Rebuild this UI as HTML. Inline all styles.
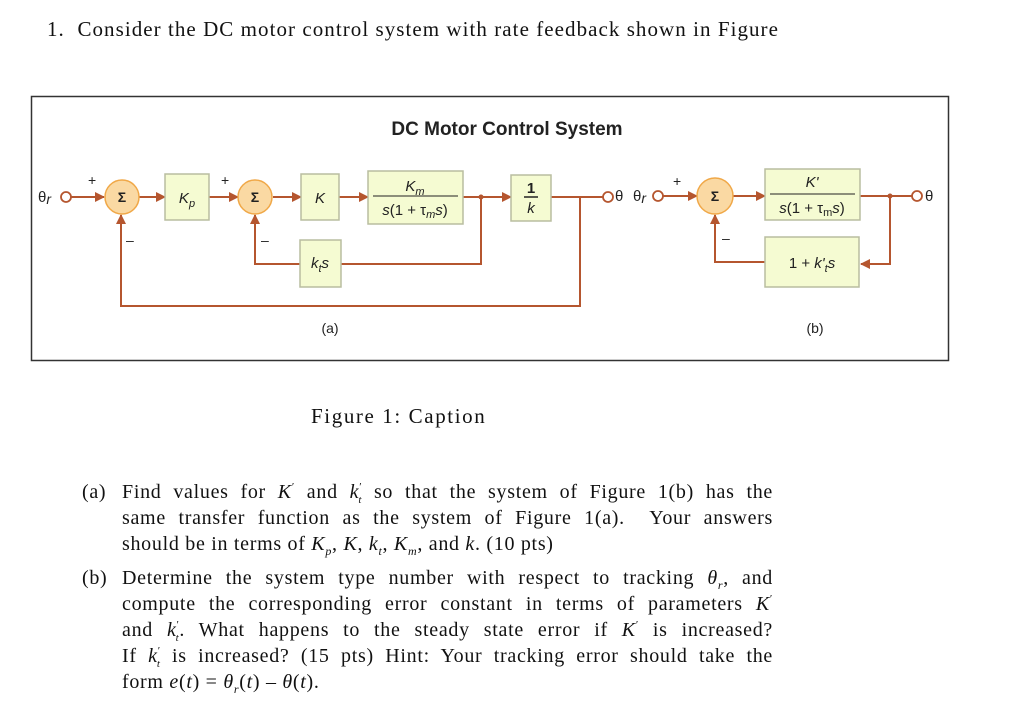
<!DOCTYPE html>
<html><head><meta charset="utf-8"><style>
body{margin:0;width:1024px;height:725px;background:#fff;position:relative;overflow:hidden;font-family:"Liberation Serif",serif;color:#111}
.t{position:absolute;font-size:20px;letter-spacing:0.7px;white-space:nowrap;line-height:22px}
.j{position:absolute;font-size:20px;letter-spacing:0.7px;width:651px;text-align:justify;text-align-last:justify;white-space:nowrap;line-height:22px}
svg{position:absolute;left:0;top:0}
i{font-style:italic}
.p{position:relative;top:-8px;font-size:11px;line-height:0}
.s{position:relative;top:5px;font-size:12px;line-height:0}
.st{position:relative;top:5px;font-size:11px;line-height:0;margin-left:-4px;font-style:italic}
</style></head><body>
<div class="t" style="left:47px;top:18px;font-size:21px;letter-spacing:1.05px">1.&nbsp; Consider the DC motor control system with rate feedback shown in Figure</div>
<svg width="1024" height="725" font-family="Liberation Sans, sans-serif">
<defs><marker id="a" markerWidth="10" markerHeight="10" refX="9" refY="5" orient="auto" markerUnits="userSpaceOnUse"><path d="M0,0 L10,5 L0,10z" fill="#b5562f"/></marker></defs>
<rect x="31.5" y="96.5" width="917" height="264" fill="#fff" stroke="#333" stroke-width="1.5"/>
<text x="507" y="135" font-size="19" font-weight="bold" text-anchor="middle" fill="#222">DC Motor Control System</text>
<g stroke="#b5562f" stroke-width="2" fill="none">
<line x1="71" y1="197" x2="104" y2="197" marker-end="url(#a)"/>
<line x1="139" y1="197" x2="165" y2="197" marker-end="url(#a)"/>
<line x1="209" y1="197" x2="238" y2="197" marker-end="url(#a)"/>
<line x1="273" y1="197" x2="301" y2="197" marker-end="url(#a)"/>
<line x1="339" y1="197" x2="368" y2="197" marker-end="url(#a)"/>
<line x1="463" y1="197" x2="511" y2="197" marker-end="url(#a)"/>
<line x1="551" y1="197" x2="603" y2="197"/>
<polyline points="481,197 481,264 341,264"/>
<polyline points="300,264 255,264 255,215" marker-end="url(#a)"/>
<polyline points="580,197 580,306 121,306 121,215" marker-end="url(#a)"/>
<line x1="663" y1="196" x2="697" y2="196" marker-end="url(#a)"/>
<line x1="733" y1="196" x2="765" y2="196" marker-end="url(#a)"/>
<line x1="860" y1="196" x2="912" y2="196"/>
<polyline points="890,196 890,264 861,264" marker-end="url(#a)"/>
<polyline points="765,262 715,262 715,215" marker-end="url(#a)"/>
</g>
<circle cx="481" cy="197" r="2.5" fill="#b5562f"/><circle cx="890" cy="196" r="2.5" fill="#b5562f"/>
<g fill="#fff" stroke="#b5562f" stroke-width="1.8"><circle cx="66" cy="197" r="5"/><circle cx="608" cy="197" r="5"/><circle cx="658" cy="196" r="5"/><circle cx="917" cy="196" r="5"/></g>
<g fill="#fad9a3" stroke="#f0a848" stroke-width="1.5"><circle cx="122" cy="197" r="17"/><circle cx="255" cy="197" r="17"/><circle cx="715" cy="196" r="18"/></g>
<g fill="#222" font-size="14" font-weight="bold" text-anchor="middle"><text x="122" y="202">Σ</text><text x="255" y="202">Σ</text><text x="715" y="201">Σ</text></g>
<g fill="#f5fbd2" stroke="#b9bda0" stroke-width="1.5">
<rect x="165" y="174" width="44" height="46"/><rect x="301" y="174" width="38" height="46"/>
<rect x="368" y="171" width="95" height="53"/><rect x="511" y="175" width="40" height="46"/>
<rect x="300" y="240" width="41" height="47"/>
<rect x="765" y="169" width="95" height="51"/><rect x="765" y="237" width="94" height="50"/>
</g>
<g fill="#222" font-size="15" text-anchor="middle">
<text x="187" y="203" font-style="italic">K<tspan font-size="11" dy="4">p</tspan></text>
<text x="320" y="203" font-style="italic">K</text>
<text x="415" y="191" font-style="italic">K<tspan font-size="11" dy="4">m</tspan></text>
<line x1="373" y1="196" x2="458" y2="196" stroke="#222" stroke-width="1"/>
<text x="415" y="215"><tspan font-style="italic">s</tspan>(1 + τ<tspan font-size="11" dy="3" font-style="italic">m</tspan><tspan dy="-3" font-style="italic">s</tspan>)</text>
<text x="531" y="193" font-weight="bold">1</text>
<line x1="524" y1="197" x2="538" y2="197" stroke="#222" stroke-width="1.5"/>
<text x="531" y="213" font-style="italic">k</text>
<text x="320" y="268" font-style="italic">k<tspan font-size="11" dy="4">t</tspan><tspan dy="-4">s</tspan></text>
<text x="812" y="187" font-style="italic">K'</text>
<line x1="770" y1="194" x2="855" y2="194" stroke="#222" stroke-width="1"/>
<text x="812" y="213"><tspan font-style="italic">s</tspan>(1 + τ<tspan font-size="11" dy="3">m</tspan><tspan dy="-3" font-style="italic">s</tspan>)</text>
<text x="812" y="268">1 + <tspan font-style="italic">k'</tspan><tspan font-size="11" dy="4" font-style="italic">t</tspan><tspan dy="-4" font-style="italic">s</tspan></text>
<text x="330" y="333" font-size="14">(a)</text><text x="815" y="333" font-size="14">(b)</text>
</g>
<g fill="#222" font-size="15">
<text x="38" y="202">θ<tspan font-style="italic" font-size="14" dy="2">r</tspan></text>
<text x="615" y="201">θ</text><text x="633" y="201">θ<tspan font-style="italic" font-size="14" dy="2">r</tspan></text>
<text x="925" y="201">θ</text>
<text x="88" y="185" font-size="14">+</text><text x="221" y="185" font-size="14">+</text><text x="673" y="186" font-size="14">+</text>
<text x="126" y="245" font-size="14">–</text><text x="261" y="245" font-size="14">–</text><text x="722" y="243" font-size="14">–</text>
</g>
</svg>
<div class="t" style="left:311px;top:405px;font-size:21px;letter-spacing:1.6px">Figure 1: Caption</div>
<div class="t" style="left:82px;top:481px">(a)</div>
<div class="j" style="left:122px;top:481px">Find values for <i>K</i><span class="p">′</span> and <i>k</i><span class="p">′</span><span class="st">t</span> so that the system of Figure 1(b) has the</div>
<div class="j" style="left:122px;top:507px">same transfer function as the system of Figure 1(a).&nbsp; Your answers</div>
<div class="t" style="left:122px;top:533px">should be in terms of <i>K</i><span class="s"><i>p</i></span>, <i>K</i>, <i>k</i><span class="s"><i>t</i></span>, <i>K</i><span class="s"><i>m</i></span>, and <i>k</i>. (10 pts)</div>
<div class="t" style="left:82px;top:567px">(b)</div>
<div class="j" style="left:122px;top:567px">Determine the system type number with respect to tracking <i>θ</i><span class="s"><i>r</i></span>, and</div>
<div class="j" style="left:122px;top:593px">compute the corresponding error constant in terms of parameters <i>K</i><span class="p">′</span></div>
<div class="j" style="left:122px;top:619px">and <i>k</i><span class="p">′</span><span class="st">t</span>. What happens to the steady state error if <i>K</i><span class="p">′</span> is increased?</div>
<div class="j" style="left:122px;top:645px">If <i>k</i><span class="p">′</span><span class="st">t</span> is increased? (15 pts) Hint: Your tracking error should take the</div>
<div class="t" style="left:122px;top:671px">form <i>e</i>(<i>t</i>) = <i>θ</i><span class="s"><i>r</i></span>(<i>t</i>) – <i>θ</i>(<i>t</i>).</div>
</body></html>
